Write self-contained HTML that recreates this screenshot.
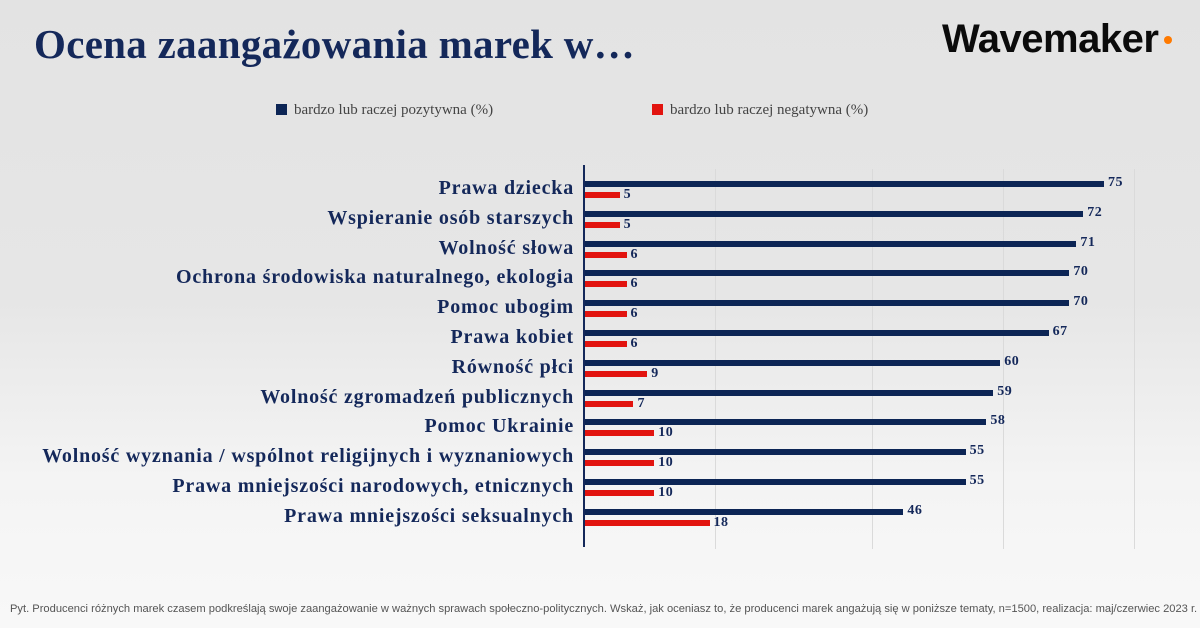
<!DOCTYPE html>
<html><head><meta charset="utf-8"><style>
html,body{margin:0;padding:0}
body{width:1200px;height:628px;position:relative;overflow:hidden;background:linear-gradient(#e3e3e3 0px,#e6e6e6 300px,#f4f4f4 480px,#f8f8f8 628px);font-family:"Liberation Serif",serif}
.t{position:absolute;left:34px;top:20px;font-size:41px;font-weight:bold;color:#14285a;letter-spacing:0.3px}
.logo{position:absolute;left:942px;top:17px;font-family:"Liberation Sans",sans-serif;font-weight:bold;font-size:40px;letter-spacing:-0.5px;color:#0b0b0b}
.dot{position:absolute;left:1164px;top:36px;width:8px;height:8px;border-radius:50%;background:#ff7a00}
.leg{position:absolute;top:102px;font-size:15px;color:#444}
.leg i{display:inline-block;width:11px;height:11px;margin-right:7px;vertical-align:-1px}
.lab{position:absolute;right:626px;font-size:20px;letter-spacing:0.8px;font-weight:bold;color:#14285a;white-space:nowrap}
.b{position:absolute;left:585px;height:6px}
.v{position:absolute;font-size:14px;font-weight:bold;color:#14285a;letter-spacing:0.5px}
.g{position:absolute;top:169px;height:380px;width:1px;background:#dadada}
.foot{position:absolute;left:10px;top:603px;font-family:"Liberation Sans",sans-serif;font-size:11.15px;color:#555;white-space:nowrap}
</style></head><body>
<div class="t">Ocena zaangażowania marek w…</div>
<div class="logo">Wavemaker</div><div class="dot"></div>
<div class="leg" style="left:276px"><i style="background:#0c2555"></i>bardzo lub raczej pozytywna (%)</div>
<div class="leg" style="left:652px"><i style="background:#e2140f"></i>bardzo lub raczej negatywna (%)</div>
<div class="g" style="left:715px"></div><div class="g" style="left:872px"></div><div class="g" style="left:1003px"></div><div class="g" style="left:1134px"></div>
<div style="position:absolute;left:583px;top:165px;width:1.5px;height:382px;background:#14285a"></div>
<div id="c"></div>
<script>
var d=[["Prawa dziecka",75,5],["Wspieranie osób starszych",72,5],["Wolność słowa",71,6],["Ochrona środowiska naturalnego, ekologia",70,6],["Pomoc ubogim",70,6],["Prawa kobiet",67,6],["Równość płci",60,9],["Wolność zgromadzeń publicznych",59,7],["Pomoc Ukrainie",58,10],["Wolność wyznania / wspólnot religijnych i wyznaniowych",55,10],["Prawa mniejszości narodowych, etnicznych",55,10],["Prawa mniejszości seksualnych",46,18]];
var h="",s=6.92;
d.forEach(function(r,i){var y=181+i*29.8;
h+='<div class="lab" style="top:'+(y-4)+'px">'+r[0]+'</div>';
h+='<div class="b" style="top:'+y+'px;width:'+(r[1]*s)+'px;background:#0c2555"></div>';
h+='<div class="b" style="top:'+(y+11)+'px;width:'+(r[2]*s)+'px;background:#e2140f"></div>';
h+='<div class="v" style="left:'+(589+r[1]*s)+'px;top:'+(y-6)+'px">'+r[1]+'</div>';
h+='<div class="v" style="left:'+(589+r[2]*s)+'px;top:'+(y+6)+'px">'+r[2]+'</div>';});
document.getElementById("c").innerHTML=h;
</script>
<div class="foot">Pyt. Producenci różnych marek czasem podkreślają swoje zaangażowanie w ważnych sprawach społeczno-politycznych. Wskaż, jak oceniasz to, że producenci marek angażują się w poniższe tematy, n=1500, realizacja: maj/czerwiec 2023 r.</div>
</body></html>
